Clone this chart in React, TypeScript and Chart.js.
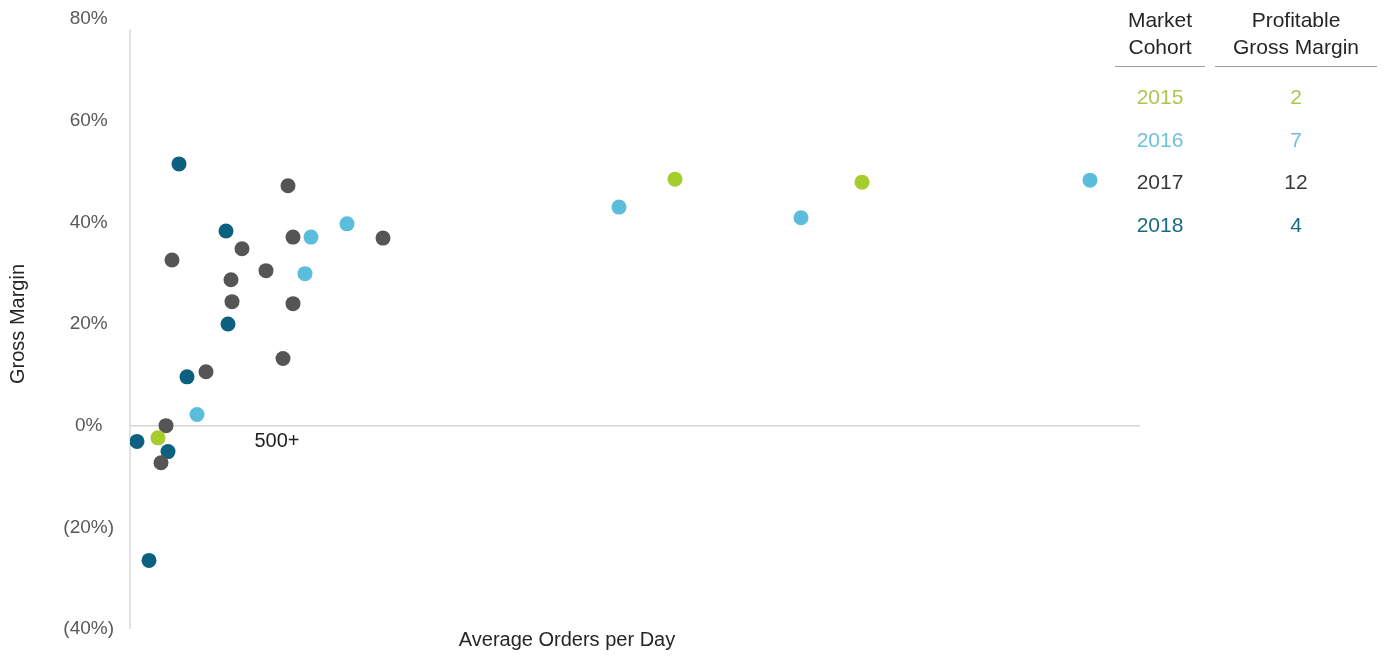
import React, { useEffect, useRef } from "react";
import { Chart, registerables } from "chart.js";

Chart.register(...registerables);

// Average orders per day (relative units, no tick labels in source) and gross margin (%)
const cohorts = ["2015", "2016", "2017", "2018"];
const cohortColors = ["#a6cd2c", "#5bbddc", "#555555", "#0d607f"];
const tableColors = ["#a8c94e", "#6cc2dc", "#3a3a3a", "#1a6a82"];
const profitableCounts = [2, 7, 12, 4];

const x2015 = [28, 545, 732];
const y2015 = [-2.4, 48.5, 47.9];
const x2016 = [181, 217, 175, 67, 489, 671, 960];
const y2016 = [37.1, 39.7, 29.9, 2.2, 43.0, 40.9, 48.3];
const x2017 = [158, 163, 253, 112, 42, 136, 101, 102, 163, 153, 76, 36, 31];
const y2017 = [47.2, 37.1, 36.9, 34.8, 32.6, 30.5, 28.7, 24.4, 24.0, 13.2, 10.6, 0, -7.3];
const x2018 = [49, 96, 98, 57, 7, 38, 19];
const y2018 = [51.5, 38.3, 20.0, 9.6, -3.1, -5.1, -26.5];

const yTicks = [-40, -20, 0, 20, 40, 60, 80];
const axisLineTop = 78; // y value where the drawn vertical axis line begins
const annotationLabel = { x: 147, y: -3.1, text: "500+" };
const xTitle = "Average Orders per Day";
const yTitle = "Gross Margin";
const tableHeaders = [["Market", "Cohort"], ["Profitable", "Gross Margin"]];

const xs = [x2015, x2016, x2017, x2018];
const ys = [y2015, y2016, y2017, y2018];

const FONT = "'Liberation Sans', Arial, sans-serif";

export default function App() {
  const ref = useRef<HTMLCanvasElement | null>(null);

  useEffect(() => {
    document.body.style.margin = "0";
    const canvas = ref.current;
    if (!canvas) return;

    const textPlugin = {
      id: "texts",
      beforeDatasetsDraw(chart: any) {
        const { ctx, scales, chartArea } = chart;
        ctx.save();
        ctx.strokeStyle = "#d9d9d9";
        ctx.lineWidth = 1.5;
        ctx.beginPath();
        ctx.moveTo(chartArea.left, scales.y.getPixelForValue(axisLineTop));
        ctx.lineTo(chartArea.left, chartArea.bottom);
        ctx.stroke();
        ctx.restore();
      },
      afterDraw(chart: any) {
        const { ctx, scales, chartArea } = chart;
        ctx.save();
        ctx.fillStyle = "#1f1f1f";
        ctx.font = `20px ${FONT}`;
        ctx.textAlign = "center";
        ctx.textBaseline = "middle";
        ctx.fillText(
          annotationLabel.text,
          scales.x.getPixelForValue(annotationLabel.x),
          scales.y.getPixelForValue(annotationLabel.y)
        );
        ctx.font = `20px ${FONT}`;
        ctx.fillStyle = "#262626";
        ctx.fillText(xTitle, 567, chartArea.bottom + 11);
        ctx.restore();
      },
    };

    const chart = new Chart(canvas, {
      type: "scatter",
      data: {
        datasets: cohorts.map((c, i) => ({
          label: c,
          data: xs[i].map((x, j) => ({ x, y: ys[i][j] })),
          backgroundColor: cohortColors[i],
          borderColor: cohortColors[i],
          pointRadius: 7.5,
          pointHoverRadius: 7.5,
          borderWidth: 0,
        })),
      },
      options: {
        animation: false,
        responsive: false,
        maintainAspectRatio: false,
        layout: { padding: { left: 0, top: 19, right: 243, bottom: 29 } },
        plugins: { legend: { display: false }, tooltip: { enabled: false } },
        scales: {
          x: { type: "linear", min: 0, max: 1010, display: false },
          y: {
            type: "linear",
            min: -40,
            max: 80,
            afterBuildTicks: (s: any) => {
              s.ticks = yTicks.map((v) => ({ value: v }));
            },
            afterFit: (s: any) => {
              s.width = 130;
              s.paddingTop = 0;
              s.paddingBottom = 0;
            },
            border: { display: false },
            grid: {
              drawTicks: false,
              color: (c: any) => (c.tick && c.tick.value === 0 ? "#d6d6d6" : "rgba(0,0,0,0)"),
              lineWidth: 1.5,
            },
            ticks: {
              padding: 16,
              crossAlign: "center",
              color: "#595959",
              font: { family: FONT, size: 19 },
              callback: (v: any) => (v < 0 ? `(${-v}%)` : `${v}%`),
            },
            title: {
              display: true,
              text: yTitle,
              color: "#262626",
              font: { family: FONT, size: 20 },
              padding: { top: 6, bottom: 0 },
            },
          },
        },
      },
      plugins: [textPlugin],
    });
    return () => chart.destroy();
  }, []);

  const headStyle: React.CSSProperties = {
    position: "absolute",
    top: 6,
    textAlign: "center",
    fontFamily: FONT,
    fontSize: 21,
    lineHeight: "27px",
    color: "#262626",
    paddingBottom: 6,
    borderBottom: "1.5px solid #9a9a9a",
  };

  const cellStyle: React.CSSProperties = {
    position: "absolute",
    textAlign: "center",
    fontFamily: FONT,
    fontSize: 21,
    lineHeight: "26px",
  };

  return (
    <div style={{ position: "relative", width: 1383, height: 658, background: "#fff" }}>
      <canvas ref={ref} width={1383} height={658} style={{ display: "block" }} />
      <div style={{ ...headStyle, left: 1115, width: 90 }}>
        {tableHeaders[0][0]}
        <br />
        {tableHeaders[0][1]}
      </div>
      <div style={{ ...headStyle, left: 1215, width: 162 }}>
        {tableHeaders[1][0]}
        <br />
        {tableHeaders[1][1]}
      </div>
      {cohorts.map((c, i) => (
        <React.Fragment key={c}>
          <div style={{ ...cellStyle, left: 1115, width: 90, top: 84 + i * 42.7, color: tableColors[i] }}>{c}</div>
          <div style={{ ...cellStyle, left: 1215, width: 162, top: 84 + i * 42.7, color: tableColors[i] }}>
            {profitableCounts[i]}
          </div>
        </React.Fragment>
      ))}
    </div>
  );
}
